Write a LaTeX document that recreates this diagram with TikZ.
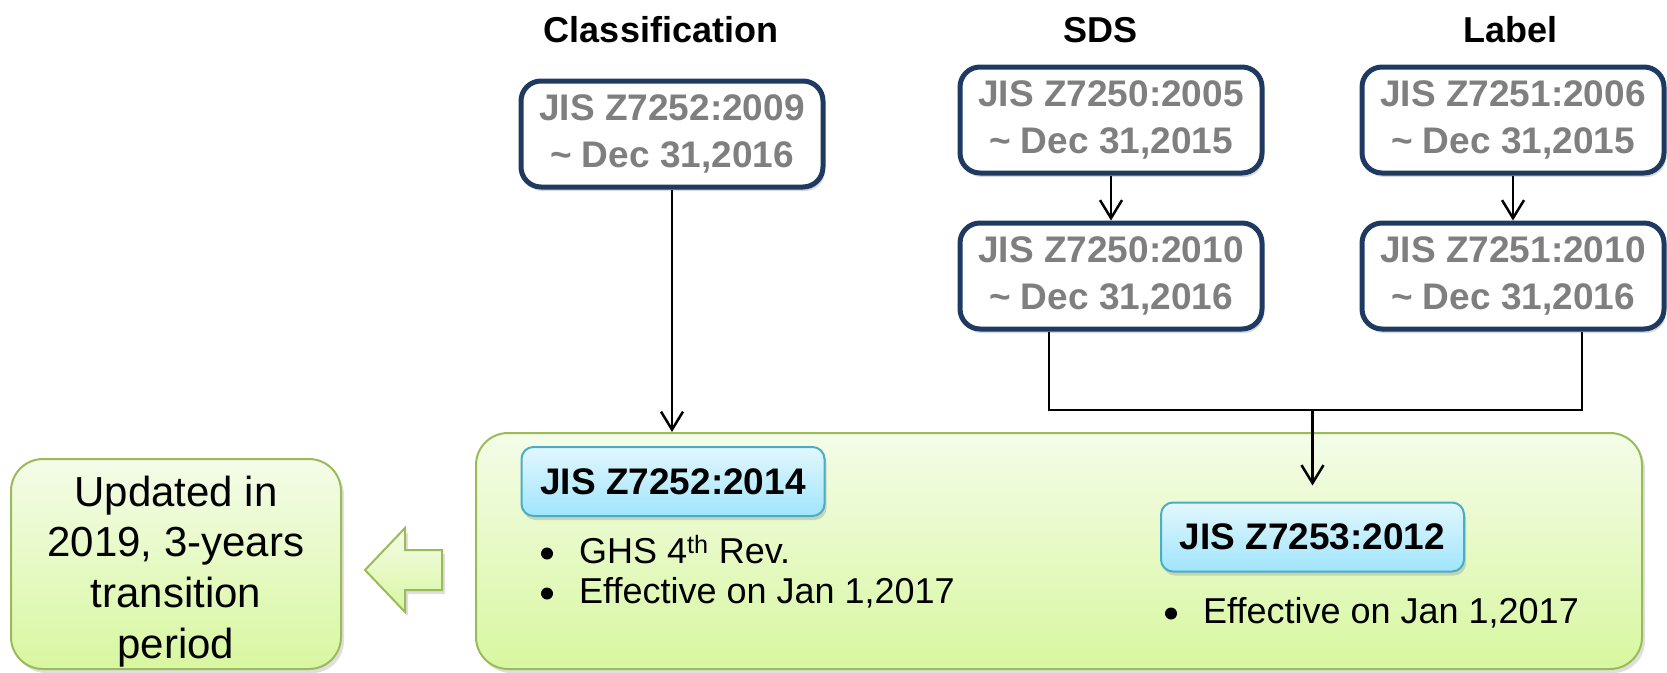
\documentclass[tikz,border=0pt]{standalone}
\usepackage{fontspec}
\setmainfont{Liberation Sans}
\usetikzlibrary{arrows.meta,shadows,calc}

\definecolor{navy}{RGB}{31,58,96}
\definecolor{txtgray}{RGB}{127,127,127}
\definecolor{gborder}{RGB}{155,187,89}
\definecolor{gtop}{RGB}{244,252,232}
\definecolor{gbot}{RGB}{216,247,160}
\definecolor{btop}{RGB}{226,247,254}
\definecolor{bbot}{RGB}{160,229,251}
\definecolor{bborder}{RGB}{75,172,198}

\begin{document}
\begin{tikzpicture}[x=1pt,y=-1pt,
  heading/.style={font=\fontsize{36}{43}\selectfont\bfseries, anchor=base},
  stdbox/.style={draw=navy, line width=5pt, rounded corners=20pt, fill=white,
    text=txtgray, font=\fontsize{37}{47}\selectfont\bfseries, align=center,
    minimum width=302pt, minimum height=106pt, inner sep=0pt,
    drop shadow={opacity=0.3, shadow xshift=2pt, shadow yshift=-4pt}},
  greenbox/.style={draw=gborder, line width=2pt, rounded corners=32pt,
    top color=gtop, bottom color=gbot, inner sep=0pt,
    drop shadow={opacity=0.25, shadow xshift=3pt, shadow yshift=-4pt}},
  bluebox/.style={draw=bborder, line width=2pt, rounded corners=12pt,
    top color=btop, bottom color=bbot, inner sep=0pt,
    font=\fontsize{37}{44}\selectfont\bfseries, text=black,
    minimum width=303pt, minimum height=69pt,
    drop shadow={opacity=0.3, shadow xshift=2pt, shadow yshift=-4pt}},
  bullettext/.style={font=\fontsize{36}{40}\selectfont, anchor=base west, inner sep=0pt},
  bulletdot/.style={circle, fill=black, minimum size=12pt, inner sep=0pt},
  conn/.style={draw=black, line width=2.5pt},
  arr/.style={conn, -{Straight Barb[length=18pt,width=22pt,line width=2.5pt]}}
]
\useasboundingbox (0,0) rectangle (1667,672);

% headings
\node[heading] (hclass) at (661,42) {Classification};
\node[heading] (hsds) at (1100,42) {SDS};
\node[heading] (hlabel) at (1510,42) {Label};

% standard boxes
\node[stdbox] (b1) at (672,134) {JIS Z7252:2009\\\textasciitilde{} Dec 31,2016};
\node[stdbox] (b2) at (1111,120) {JIS Z7250:2005\\\textasciitilde{} Dec 31,2015};
\node[stdbox] (b3) at (1111,276) {JIS Z7250:2010\\\textasciitilde{} Dec 31,2016};
\node[stdbox] (b4) at (1513,120) {JIS Z7251:2006\\\textasciitilde{} Dec 31,2015};
\node[stdbox] (b5) at (1513,276) {JIS Z7251:2010\\\textasciitilde{} Dec 31,2016};

% green boxes
\node[greenbox, minimum width=1166pt, minimum height=236pt] (big) at (1059,551) {};
\node[greenbox, minimum width=330pt, minimum height=210pt] (left) at (176,564) {};
\node[anchor=base, inner sep=0pt, font=\fontsize{42}{50.7}\selectfont, text=black] (lefttext) at (176,506)
  {\begin{tabular}[t]{@{}c@{}}Updated in\\2019, 3-years\\transition\\period\end{tabular}};

% block arrow
\path[draw=gborder, line width=2pt, top color=gtop, bottom color=gbot,
  drop shadow={opacity=0.25, shadow xshift=3pt, shadow yshift=-4pt}]
  (442,550) -- (405,550) -- (405,528) -- (365,570) -- (405,612) -- (405,590) -- (442,590) -- cycle;

% blue boxes
\node[bluebox] (bz1) at (673,481.5) {JIS Z7252:2014};
\node[bluebox] (bz2) at (1312.5,537) {JIS Z7253:2012};

% bullets
\node[bulletdot] (m1) at (547,553.5) {};
\node[bullettext] (t1) at (579,563) {GHS 4\textsuperscript{th} Rev.};
\node[bulletdot] (m2) at (547,593.5) {};
\node[bullettext] (t2) at (579,603) {Effective on Jan 1,2017};
\node[bulletdot] (m3) at (1171,613.5) {};
\node[bullettext] (t3) at (1203,623) {Effective on Jan 1,2017};

% connectors
\draw[arr] (b1.south) -- (b1.south |- big.north);
\draw[arr] (b2.south) -- (b3.north);
\draw[arr] (b4.south) -- (b5.north);
\coordinate (j) at (bz2.north |- 0,410);
\draw[conn] ([xshift=-62pt]b3.south) |- (j) -| ([xshift=69pt]b5.south);
\draw[arr, line width=3pt] (j) -- ([yshift=16pt]bz2.north);
\end{tikzpicture}
\end{document}
